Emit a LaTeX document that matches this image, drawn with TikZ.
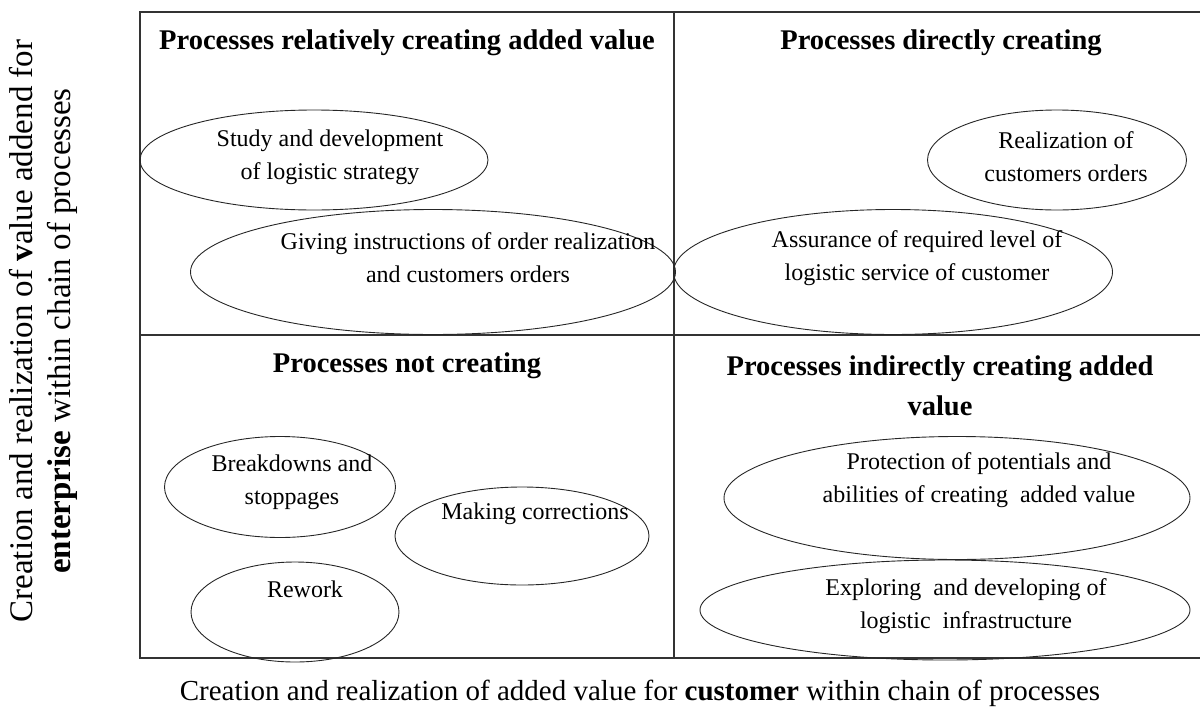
\documentclass[tikz,border=0pt]{standalone}
\usepackage{fontspec}
\setmainfont{Liberation Serif}
\usetikzlibrary{shapes.geometric, positioning}

\begin{document}
\begin{tikzpicture}[
    x=1pt, y=-1pt,
    grid/.style={draw=black!80, line width=1.6pt},
    proc/.style={ellipse, draw=black!85, line width=0.9pt, inner sep=0pt},
    heading/.style={font=\fontsize{28.5}{40}\selectfont\bfseries, align=center},
    proctext/.style={font=\fontsize{24}{33}\selectfont, align=center, inner sep=0pt},
    axislabel/.style={font=\fontsize{29}{34}\selectfont, inner sep=0pt}
]
\useasboundingbox (0,0) rectangle (1200,718);
% quadrant grid
\coordinate (tl) at (140,12);
\coordinate (bl) at (140,658);
\coordinate (tm) at (674,12);
\coordinate (bm) at (674,658);
\draw[grid] (1200,12) -- (tl) -- (bl) -- (1200,658);
\draw[grid] (tm) -- (bm);
\draw[grid] (140,335) -- (1200,335);
% headings
\node[heading] (hrel) at (407,43) {Processes relatively creating added value};
\node[heading] (hdir) at (941,43) {Processes directly creating};
\node[heading] (hnot) at (407,366) {Processes not creating};
\node[heading] (hind) at (940,386) {Processes indirectly creating added\\value};
% process ellipses
\node[proc, minimum width=348, minimum height=100] (study) at (314,160) {};
\node[proc, minimum width=485, minimum height=125] (giving) at (433,272) {};
\node[proc, minimum width=259, minimum height=100] (realiz) at (1057,160) {};
\node[proc, minimum width=439, minimum height=125] (assur) at (893,272) {};
\node[proc, minimum width=231, minimum height=101] (brkdn) at (280,487) {};
\node[proc, minimum width=254, minimum height=98] (making) at (522,536) {};
\node[proc, minimum width=208, minimum height=100] (rework) at (295,612) {};
\node[proc, minimum width=466, minimum height=123] (protect) at (957,498) {};
\node[proc, minimum width=490, minimum height=100] (explore) at (945,610) {};
% texts inside the ellipses
\node[proctext] (study-t) at (330,157) {Study and development\\of logistic strategy};
\node[proctext] (giving-t) at (468,258) {Giving instructions of order realization\\and customers orders};
\node[proctext] (realiz-t) at (1066,157) {Realization of\\customers orders};
\node[proctext] (assur-t) at (917,258) {Assurance of required level of\\logistic service of customer};
\node[proctext] (brkdn-t) at (292,482) {Breakdowns and\\stoppages};
\node[proctext] (making-t) at (535,514) {Making corrections};
\node[proctext] (rework-t) at (305,589) {Rework};
\node[proctext] (protect-t) at (979,480) {Protection of potentials and\\abilities of creating\ \ added value};
\node[proctext] (explore-t) at (966,606) {Exploring\ \ and developing of\\logistic\ \ infrastructure};
% axis captions
\node[axislabel] (xcap) at (640,693)
    {Creation and realization of added value for \textbf{customer} within chain of processes};
\node[axislabel, font=\fontsize{33}{38}\selectfont, align=center, rotate=90] (ycap) at (43,331)
    {Creation and realization of \textbf{v}alue addend for\\\textbf{enterprise} within chain of processes};
\end{tikzpicture}
\end{document}
